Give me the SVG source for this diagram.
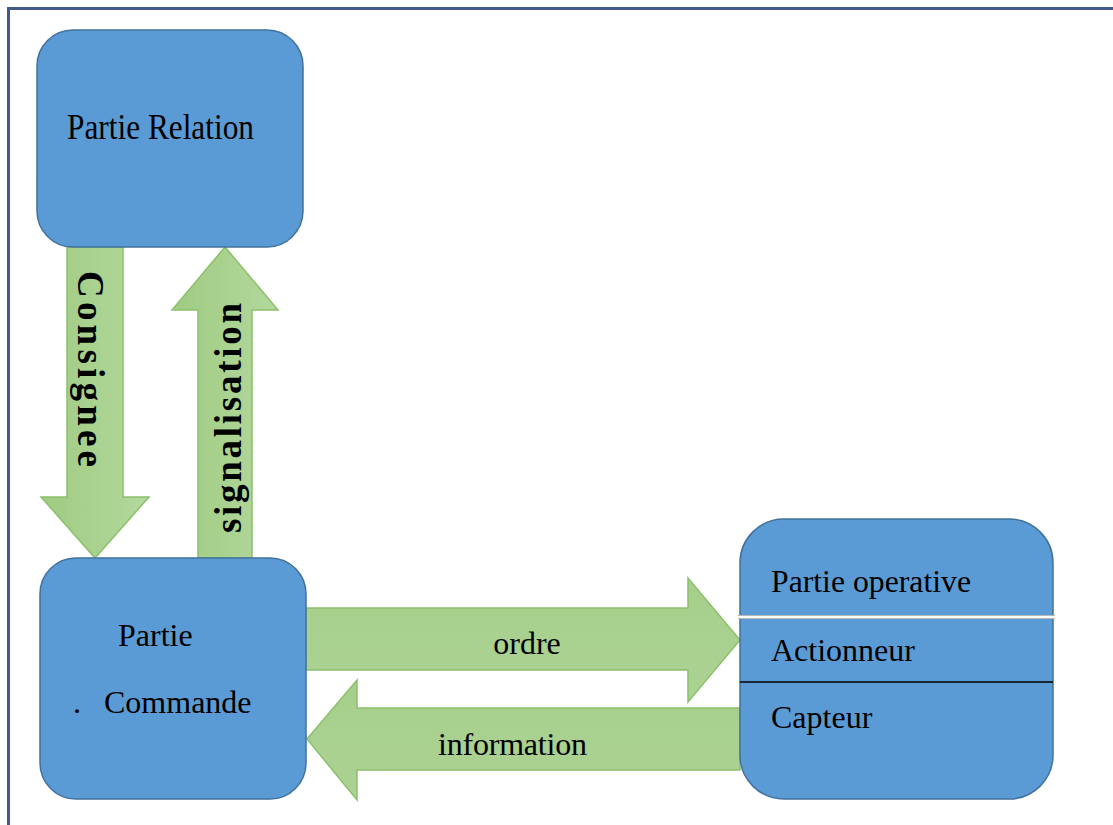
<svg xmlns="http://www.w3.org/2000/svg" width="1113" height="825" viewBox="0 0 1113 825">
  <defs>
    <linearGradient id="gv" x1="0" y1="0" x2="1" y2="0">
      <stop offset="0" stop-color="#9fcb82"/>
      <stop offset="1" stop-color="#b3d89d"/>
    </linearGradient>
    <linearGradient id="gh" x1="0" y1="0" x2="0" y2="1">
      <stop offset="0" stop-color="#a6cf8b"/>
      <stop offset="1" stop-color="#acd293"/>
    </linearGradient>
  </defs>
  <style>
    .box { fill: #5b9bd5; stroke: #41719c; stroke-width: 1.5; }
    .arrv { fill: url(#gv); stroke: #8cc06c; stroke-width: 1.5; stroke-linejoin: miter; }
    .arrh { fill: url(#gh); stroke: #8cc06c; stroke-width: 1.5; stroke-linejoin: miter; }
    .t { font-family: "Liberation Serif", "Times New Roman", serif; font-size: 32px; fill: #000; }
    .tb { font-family: "Liberation Serif", "Times New Roman", serif; font-size: 37px; font-weight: bold; fill: #000; }
  </style>
  <rect width="1113" height="825" fill="#ffffff"/>
  <g id="frame">
    <line x1="7" y1="8.5" x2="1113" y2="8.5" stroke="#42598a" stroke-width="3"/>
    <line x1="8.5" y1="7" x2="8.5" y2="825" stroke="#42598a" stroke-width="3"/>
  </g>
  <g id="connectors">
    <g id="consignee">
      <polygon class="arrv" points="67,247 123,247 123,497 149,497 95,558 41,497 67,497"/>
      <text class="tb" transform="translate(78,271) rotate(90)" textLength="196" lengthAdjust="spacing">Consignee</text>
    </g>
    <g id="signalisation">
      <polygon class="arrv" points="198,558 252,558 252,310 278,310 225,247 172,310 198,310"/>
      <text class="tb" transform="translate(241,533) rotate(-90)" textLength="230" lengthAdjust="spacing">signalisation</text>
    </g>
    <g id="ordre">
      <polygon class="arrh" points="306,608 688,608 688,578 740,640 688,702 688,670 306,670"/>
      <text class="t" x="527" y="654" text-anchor="middle">ordre</text>
    </g>
    <g id="information">
      <polygon class="arrh" points="740,708 357,708 357,680 307,739 357,800 357,770 740,770"/>
      <text class="t" x="438" y="755" textLength="149" lengthAdjust="spacing">information</text>
    </g>
  </g>
  <g id="partie-relation">
    <rect class="box" x="37" y="30" width="266" height="217" rx="36"/>
    <text class="t" transform="translate(67,139) scale(1,1.15)" textLength="187" lengthAdjust="spacingAndGlyphs">Partie Relation</text>
  </g>
  <g id="partie-commande">
    <rect class="box" x="40" y="558" width="266" height="241" rx="36"/>
    <text class="t" x="118" y="646">Partie</text>
    <text class="t" x="73" y="713">.</text>
    <text class="t" x="104" y="713">Commande</text>
  </g>
  <g id="partie-operative">
    <rect class="box" x="740" y="519" width="313" height="280" rx="44"/>
    <line x1="738" y1="617" x2="1055" y2="617" stroke="#b8b8b8" stroke-width="4"/>
    <line x1="738" y1="617" x2="1055" y2="617" stroke="#ffffff" stroke-width="2"/>
    <line x1="740" y1="682" x2="1053" y2="682" stroke="#000000" stroke-width="1.5"/>
    <text class="t" x="771" y="592" textLength="200" lengthAdjust="spacingAndGlyphs">Partie operative</text>
    <text class="t" x="771" y="661">Actionneur</text>
    <text class="t" x="771" y="728">Capteur</text>
  </g>
</svg>
